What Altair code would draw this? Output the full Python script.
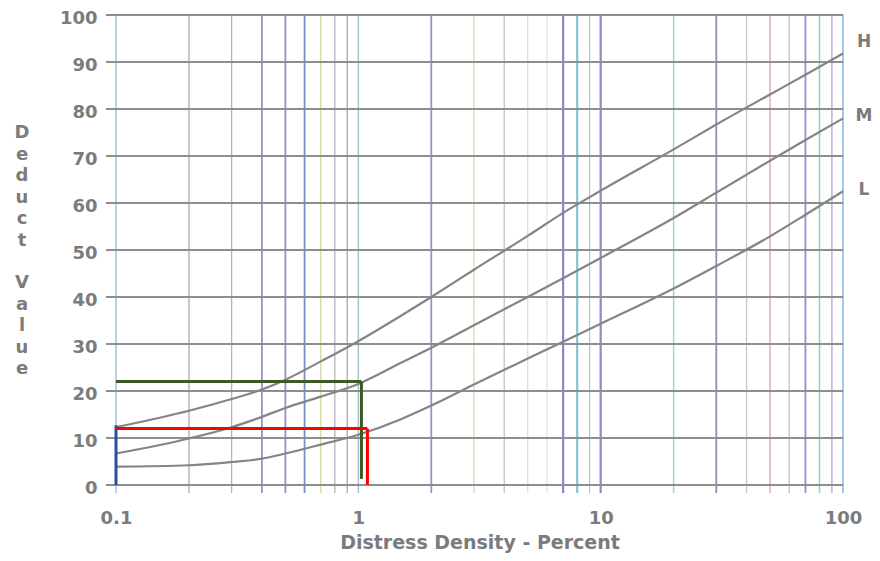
import altair as alt
import pandas as pd

# ---- data ----
density = [0.1, 0.2, 0.3, 0.4, 0.5, 0.7, 1, 1.5, 2, 3, 5, 7, 10, 20, 30, 50, 70, 100]
high = [12.3, 15.8, 18.3, 20.3, 22.4, 26.3, 30.6, 36.0, 40.0, 45.8, 53.0, 57.9, 62.6, 71.4, 76.7, 83.1, 87.3, 91.8]
medium = [6.7, 9.9, 12.3, 14.5, 16.4, 18.8, 21.5, 26.0, 29.2, 34.0, 40.0, 44.0, 48.3, 56.8, 62.2, 69.0, 73.4, 78.0]
low = [3.9, 4.2, 4.9, 5.6, 6.7, 8.6, 10.7, 14.0, 16.9, 21.4, 26.9, 30.5, 34.3, 41.8, 46.6, 52.9, 57.5, 62.5]

severity_labels = ["H", "M", "L"]
severity_label_y = [94.3, 78.5, 62.8]

y_title_word1 = ["D", "e", "d", "u", "c", "t"]
y_title_word2 = ["V", "a", "l", "u", "e"]
x_title = "Distress Density - Percent"

y_ticks = [0, 10, 20, 30, 40, 50, 60, 70, 80, 90, 100]
x_ticks = [0.1, 1, 10, 100]
x_grid = [0.1, 0.2, 0.3, 0.4, 0.5, 0.6, 0.7, 0.8, 0.9,
          1, 2, 3, 4, 5, 6, 7, 8, 9,
          10, 20, 30, 40, 50, 60, 70, 80, 90, 100]

# lookup lines (x, x2, y, y2)
green_h = [0.1, 1.03, 22, 22]
green_v = [1.03, 1.03, 22, 1.3]
red_h = [0.1, 1.09, 12, 12]
red_v = [1.09, 1.09, 12, 0]
blue_v = [0.1, 0.1, 12.7, 0]

# ---- styles ----
grid_colors = ["#9cc6d6", "#b4a6b4", "#d2a6b6", "#8e98c8", "#9a92c4", "#7c8cc4", "#d4d8a8", "#b6b2c4", "#c498c4",
               "#a6c0cc", "#9098c0", "#e0d6b2", "#c2c2cc", "#e2e0c4", "#e6e6d2", "#8a84c8", "#88c2d8", "#b2c8d0",
               "#9486c8", "#a4d0d8", "#8a94a8", "#c4c8d0", "#d2a4c2", "#d8b4c4", "#8a96d0", "#94c8d2", "#b2a4d2",
               "#98c6e0"]
grid_widths = [1.5, 1.3, 1.3, 1.8, 1.8, 1.8, 1.3, 1.3, 1.3,
               1.5, 1.8, 1.3, 1.3, 1.3, 1.3, 2.2, 2.2, 1.3,
               2.2, 1.5, 1.8, 1.3, 1.3, 1.3, 1.8, 1.5, 1.3, 1.8]

TXT = "#7b7b7b"
FONT = "DejaVu Sans"
W, H = 727, 470

xscale = alt.Scale(type="log", domain=[0.1, 100], nice=False)
yscale = alt.Scale(domain=[0, 100], nice=False, zero=False)

x_axis = alt.Axis(
    values=x_ticks, format="~g", domain=False, ticks=False, grid=False, labelFlush=False,
    labelFont=FONT, labelFontWeight="bold", labelFontSize=18, labelColor=TXT, labelPadding=24,
    title=x_title, titleFont=FONT, titleFontWeight="bold", titleFontSize=19,
    titleColor=TXT, titleBaseline="alphabetic", titleY=63)
y_axis = alt.Axis(
    values=y_ticks, domain=False, ticks=False, grid=False, labelFlush=False,
    labelFont=FONT, labelFontWeight="bold", labelFontSize=18, labelColor=TXT, labelPadding=19,
    labelOffset=3, title="")

curves = pd.DataFrame(
    [{"x": d, "y": v, "s": "H"} for d, v in zip(density, high)]
    + [{"x": d, "y": v, "s": "M"} for d, v in zip(density, medium)]
    + [{"x": d, "y": v, "s": "L"} for d, v in zip(density, low)]
)

vgrid_df = pd.DataFrame({"x": x_grid, "c": grid_colors, "w": grid_widths})
hgrid_df = pd.DataFrame({"y": y_ticks})

vgrid = alt.Chart(vgrid_df).mark_rule().encode(
    x=alt.X("x:Q", scale=xscale, axis=x_axis),
    y=alt.value(0),
    y2=alt.value(H + 8),
    color=alt.Color("c:N", scale=None),
    strokeWidth=alt.StrokeWidth("w:Q", scale=None),
)

hgrid = alt.Chart(hgrid_df).mark_rule(color="#8e8e8e", strokeWidth=2).encode(
    y=alt.Y("y:Q", scale=yscale, axis=y_axis),
    x=alt.value(-10),
    x2=alt.value(W),
)

line_layer = alt.Chart(curves).mark_line(color="#858585", strokeWidth=2.2, interpolate="monotone").encode(
    x=alt.X("x:Q", scale=xscale, axis=x_axis),
    y=alt.Y("y:Q", scale=yscale, axis=y_axis),
    detail="s:N",
)


def seg(vals, color):
    df = pd.DataFrame({"x": [vals[0]], "x2": [vals[1]], "y": [vals[2]], "y2": [vals[3]]})
    return alt.Chart(df).mark_rule(color=color, strokeWidth=3).encode(
        x=alt.X("x:Q", scale=xscale, axis=x_axis), x2="x2:Q",
        y=alt.Y("y:Q", scale=yscale, axis=y_axis), y2="y2:Q",
    )


labels_df = pd.DataFrame({"t": severity_labels, "y": severity_label_y})
labels = alt.Chart(labels_df).mark_text(font=FONT, fontWeight="bold", fontSize=17, color=TXT).encode(
    x=alt.value(W + 21),
    y=alt.Y("y:Q", scale=yscale, axis=y_axis),
    text="t:N",
)


def stacked(letters, ypix):
    return alt.Chart(pd.DataFrame({"k": [0]})).mark_text(
        text=letters, font=FONT, fontWeight="bold", fontSize=18, color=TXT,
        lineHeight=21.5, align="center", baseline="middle",
    ).encode(x=alt.value(-94), y=alt.value(ypix))


chart = alt.layer(
    vgrid, hgrid, line_layer,
    seg(blue_v, "#2b4ea0"),
    seg(green_h, "#3d5a26"), seg(green_v, "#3d5a26"),
    seg(red_h, "#ff0000"), seg(red_v, "#ff0000"),
    labels,
    stacked(y_title_word1, 118),
    stacked(y_title_word2, 268),
).properties(
    width=W, height=H,
    padding={"left": 108, "top": 7, "right": 29, "bottom": 68},
    autosize=alt.AutoSizeParams(type="none"),
    background="white",
).configure_view(strokeWidth=0)

chart.save("out.html", embed_options={"renderer": "svg", "actions": False})
